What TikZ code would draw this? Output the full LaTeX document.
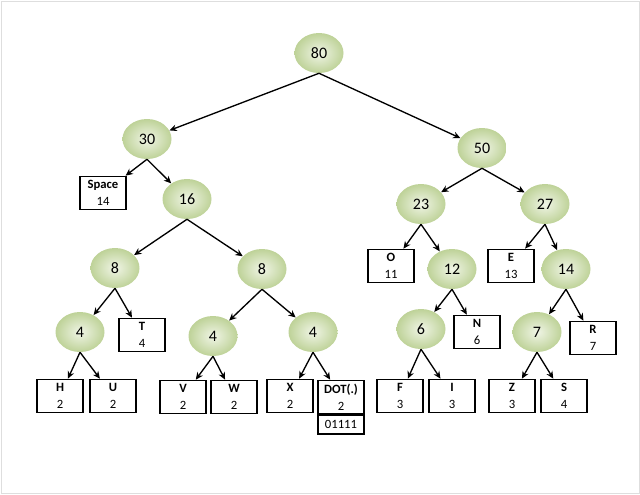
\documentclass[tikz,border=0pt]{standalone}
\usepackage{fontspec}
\setmainfont{Carlito}
\usetikzlibrary{arrows.meta,positioning,shapes,calc}
\definecolor{sumgreen}{RGB}{190,210,152}
\definecolor{sumlight}{RGB}{240,245,230}
\definecolor{framegray}{RGB}{222,222,222}

\begin{document}
\begin{tikzpicture}[x=0.75pt, y=-0.75pt,
    sum/.style={ellipse, minimum width=36.75pt, minimum height=30pt, inner sep=0pt,
        inner color=sumlight, outer color=sumgreen, font=\fontsize{12}{14}\selectfont},
    leaf/.style={draw, line width=1pt, fill=white, minimum width=34.5pt, minimum height=25pt,
        inner sep=1pt, align=center, font=\fontsize{9.5}{13}\selectfont},
    edge/.style={-{Stealth[length=5.5pt,width=5pt]}, line width=1pt}]
    \useasboundingbox (0,0) rectangle (640,494);
    \draw[framegray] (1,1) rectangle (639,493);
    % inner nodes
    \node[sum] (n80) at (319,53) {80};
    \node[sum] (n30) at (147,139) {30};
    \node[sum] (n50) at (482,148) {50};
    \node[sum] (n16) at (187,199) {16};
    \node[sum] (n23) at (421,204) {23};
    \node[sum] (n27) at (545,204) {27};
    \node[sum] (n8a) at (115,268) {8};
    \node[sum] (n8b) at (262,269) {8};
    \node[sum] (n12) at (452,269) {12};
    \node[sum] (n14) at (566,269) {14};
    \node[sum] (n4a) at (80,332) {4};
    \node[sum] (n4b) at (213,336) {4};
    \node[sum] (n4c) at (313,332) {4};
    \node[sum] (n6) at (421,329) {6};
    \node[sum] (n7) at (537,332) {7};
    % leaves
    \node[leaf] (bSpace) at (103,193) {\textbf{Space}\\14};
    \node[leaf] (bO) at (391,266) {\textbf{O}\\11};
    \node[leaf] (bE) at (511,266) {\textbf{E}\\13};
    \node[leaf] (bT) at (142,335) {\textbf{T}\\4};
    \node[leaf] (bN) at (477,332) {\textbf{N}\\6};
    \node[leaf] (bR) at (593,338) {\textbf{R}\\7};
    \node[leaf] (bH) at (60,396) {\textbf{H}\\2};
    \node[leaf] (bU) at (113,396) {\textbf{U}\\2};
    \node[leaf] (bV) at (183,397) {\textbf{V}\\2};
    \node[leaf] (bW) at (234,397) {\textbf{W}\\2};
    \node[leaf] (bX) at (290,396) {\textbf{X}\\2};
    \node[leaf] (bDot) at (341,397) {\textbf{DOT(.)}\\2};
    \node[leaf, minimum height=14.25pt, anchor=north] (bCode) at (bDot.south) {01111};
    \node[leaf] (bF) at (400,396) {\textbf{F}\\3};
    \node[leaf] (bI) at (452,396) {\textbf{I}\\3};
    \node[leaf] (bZ) at (512,396) {\textbf{Z}\\3};
    \node[leaf] (bS) at (564,396) {\textbf{S}\\4};
    % edges
    \foreach \p/\c in {n80/n30, n80/n50, n30/bSpace, n30/n16, n50/n23, n50/n27,
        n16/n8a, n16/n8b, n23/bO, n23/n12, n27/bE, n27/n14,
        n8a/n4a, n8a/bT, n8b/n4b, n8b/n4c, n12/n6, n12/bN, n14/n7, n14/bR,
        n4a/bH, n4a/bU, n4b/bV, n4b/bW, n4c/bX, n4c/bDot, n6/bF, n6/bI, n7/bZ, n7/bS}
        \draw[edge] (\p.south) -- (\c);
\end{tikzpicture}
\end{document}
